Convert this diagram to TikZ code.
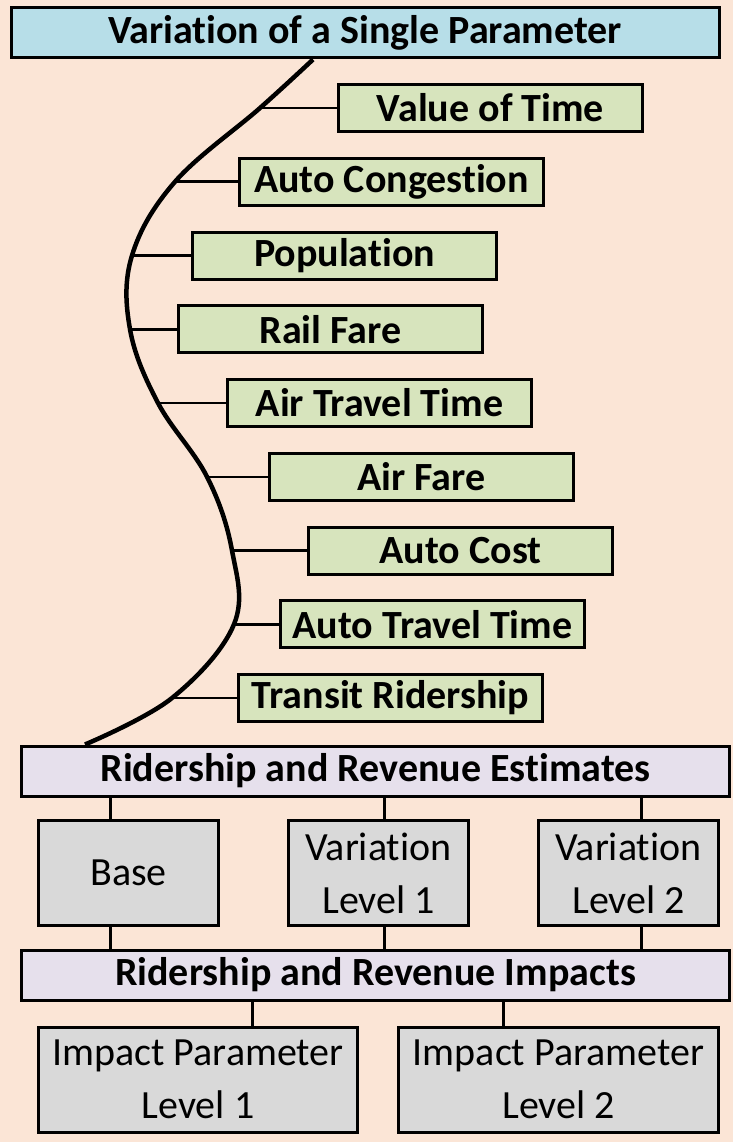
\documentclass[tikz,border=0pt]{standalone}
\usepackage{fontspec}
\setmainfont{Carlito}[Ligatures=NoCommon]
\usetikzlibrary{shadows}
\definecolor{bgpeach}{HTML}{FBE5D6}
\definecolor{topblue}{HTML}{B7DEE8}
\definecolor{parmgreen}{HTML}{D7E4BD}
\definecolor{lavender}{HTML}{E6E0EC}
\definecolor{boxgray}{HTML}{D9D9D9}
\tikzset{
  box/.style={draw, line width=3pt, inner sep=0pt, align=center,
    drop shadow={shadow xshift=1.2pt, shadow yshift=-1.2pt, opacity=0.6, fill=black}},
  param/.style={box, fill=parmgreen, minimum width=304pt, minimum height=47pt,
    font=\bfseries\fontsize{40}{44}\selectfont},
  bar/.style={box, minimum width=708pt, minimum height=50pt,
    font=\bfseries\fontsize{40}{44}\selectfont},
  result/.style={box, fill=boxgray, minimum height=105pt,
    font=\fontsize{40}{53}\selectfont},
  tick/.style={line width=2.5pt},
  link/.style={line width=3pt},
}

\begin{document}
\begin{tikzpicture}[x=1pt,y=-1pt] % flip y axis, 1 unit = 1 px
  \fill[bgpeach] (0,0) rectangle (733,1142);
  \useasboundingbox (0,0) rectangle (733,1142);

  \node[bar, fill=topblue] (single) at (365,33) {Variation of a Single Parameter};
  \foreach \n/\t/\x/\cx [count=\i] in {vot/Value of Time/337/260,
      cong/Auto Congestion/238/175, pop/Population/191/132, rail/Rail Fare/177/130,
      airtt/Air Travel Time/226/158, airfare/Air Fare/268/207, autocost/Auto Cost/307/232,
      autott/Auto Travel Time/279/234, transit/Transit Ridership/237/172}{
      \node[param, anchor=west] (\n) at (\x, {108+73.75*(\i-1)}) {\t};
      \coordinate (c\i) at (\cx, {108+73.75*(\i-1)});
      \draw[tick] (c\i) -- (\n.west);
    }

  \node[bar, fill=lavender] (est) at (375.5,771) {Ridership and Revenue Estimates};
  \node[bar, fill=lavender] (imp) at (375.5,975) {Ridership and Revenue Impacts};

  % the sweep from the top bar down to the estimates
  \coordinate (ctop) at (single.south -| 313,0);
  \coordinate (cbot) at (est.north -| 85,0);
  \draw[line width=4.5pt] plot[smooth, tension=0.62] coordinates
    {(ctop) (c1) (c2) (c3) (c4) (c5) (c6) (c7) (c8) (c9) (cbot)};

  \node[result, minimum width=180pt] (base) at (128.5,873) {Base};
  \node[result, minimum width=180pt] (var1) at (378.5,873) {Variation\\Level 1};
  \node[result, minimum width=180pt] (var2) at (628.5,873) {Variation\\Level 2};
  \foreach \n/\x in {base/110, var1/384, var2/641}{
      \draw[link] (est.south -| \x,0) -- (\n.north -| \x,0);
      \draw[link] (\n.south -| \x,0) -- (imp.north -| \x,0);
    }

  \node[result, minimum width=319pt] (lvl1) at (198,1079.5) {Impact Parameter\\Level 1};
  \node[result, minimum width=320pt] (lvl2) at (558.5,1079.5) {Impact Parameter\\Level 2};
  \draw[link] (imp.south -| 252,0) -- (lvl1.north -| 252,0);
  \draw[link] (imp.south -| 503,0) -- (lvl2.north -| 503,0);
\end{tikzpicture}
\end{document}
